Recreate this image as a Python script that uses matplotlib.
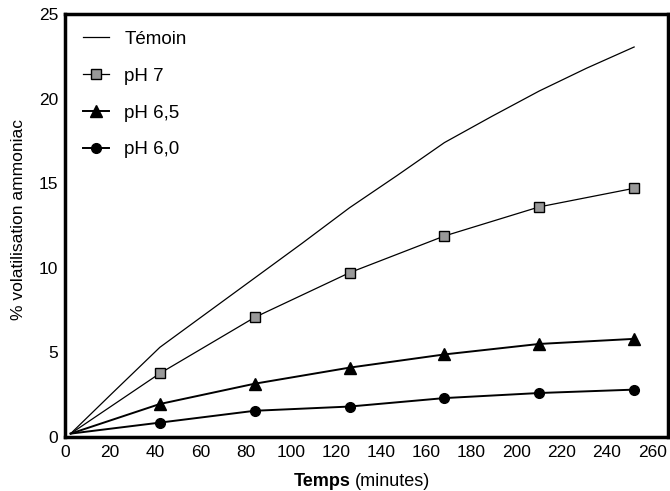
import matplotlib
matplotlib.use("Agg")
import matplotlib.pyplot as plt

plt.rcParams['font.family'] = ['Liberation Sans', 'DejaVu Sans']

# Data
temoin_t = [2.5, 21, 42, 63, 84, 105, 126, 147, 168, 189, 210, 231, 252]
temoin_v = [0.2, 2.6, 5.3, 7.35, 9.4, 11.45, 13.55, 15.45, 17.4, 18.95, 20.45, 21.8, 23.05]

times = [2.5, 42, 84, 126, 168, 210, 252]
ph7 = [0.2, 3.76, 7.07, 9.71, 11.88, 13.6, 14.7]
ph65 = [0.2, 1.95, 3.15, 4.1, 4.88, 5.5, 5.8]
ph60 = [0.2, 0.85, 1.55, 1.8, 2.3, 2.6, 2.8]

xticks = list(range(0, 261, 20))
yticks = [0, 5, 10, 15, 20, 25]

W, H = 670, 491
fig = plt.figure(figsize=(W / 100, H / 100), dpi=100)
ax = fig.add_axes([65 / W, 1 - 437 / H, (668 - 65) / W, (437 - 14) / H])

marks = list(range(1, 7))
ax.plot(temoin_t, temoin_v, color='black', lw=0.9, label='Témoin')
ax.plot(times, ph7, color='black', lw=0.9, marker='s', markersize=6.5,
        markerfacecolor='0.6', markeredgecolor='black', markeredgewidth=1.0,
        markevery=marks, label='pH 7')
ax.plot(times, ph65, color='black', lw=1.4, marker='^', markersize=9,
        markerfacecolor='black', markeredgecolor='black',
        markevery=marks, label='pH 6,5')
ax.plot(times, ph60, color='black', lw=1.4, marker='o', markersize=7,
        markerfacecolor='black', markeredgecolor='black',
        markevery=marks, label='pH 6,0')

ax.set_xlim(0, 267)
ax.set_ylim(0, 25)
ax.set_xticks(xticks)
ax.set_yticks(yticks)
ax.tick_params(axis='both', length=0, labelsize=12.5)
ax.tick_params(axis='x', pad=6)
ax.tick_params(axis='y', pad=5)
for s in ax.spines.values():
    s.set_linewidth(2.5)

fig.text(19 / W, 1 - 220 / H, '% volatilisation ammoniac', rotation=90,
         ha='center', va='center', fontsize=12.5)
fig.text(351 / W, 1 - 481 / H, 'Temps', ha='right', va='center',
         fontsize=13, fontweight='bold')
fig.text(355 / W, 1 - 481 / H, '(minutes)', ha='left', va='center',
         fontsize=13)

ax.legend(loc='upper left', frameon=False, fontsize=13.5, handlelength=1.4,
          handletextpad=0.8, labelspacing=1.05, borderpad=0, borderaxespad=0,
          bbox_to_anchor=(0.03, 0.96))

fig.savefig('out.png', dpi=100)
